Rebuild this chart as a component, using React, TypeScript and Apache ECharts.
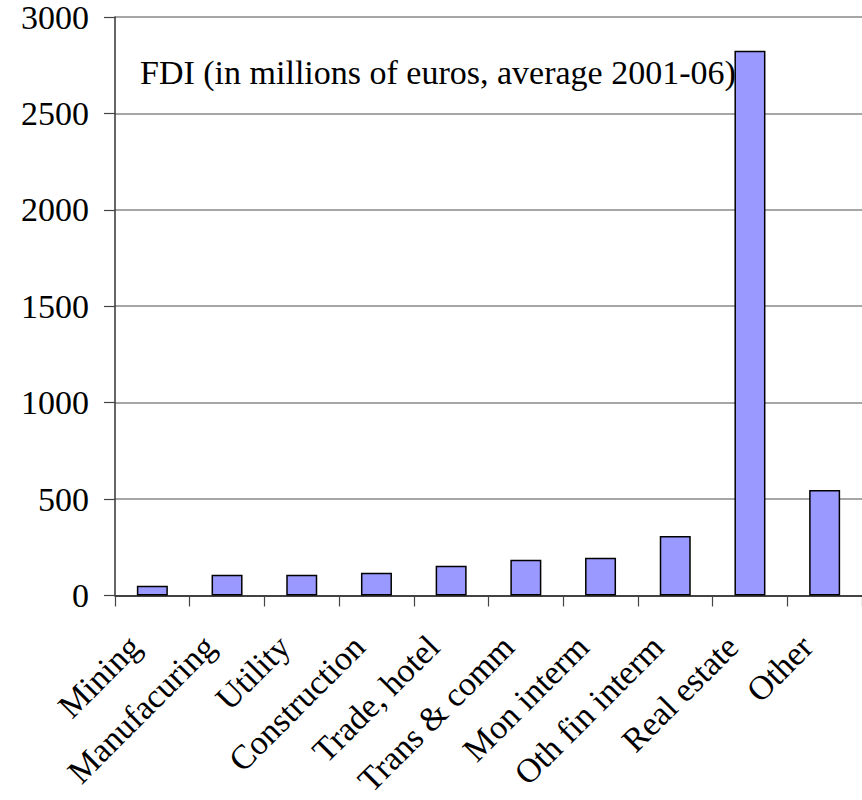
import React, { useEffect, useRef } from "react";
import * as echarts from "echarts";

const categories = [
  "Mining",
  "Manufacuring",
  "Utility",
  "Construction",
  "Trade, hotel",
  "Trans & comm",
  "Mon interm",
  "Oth fin interm",
  "Real estate",
  "Other",
];
const fdiValues = [50, 107, 107, 118, 154, 185, 195, 308, 2825, 547];
const yTicks = { min: 0, max: 3000, interval: 500 };
const chartTitle = "FDI (in millions of euros, average 2001-06)";

const FONT = '"Liberation Serif", "Times New Roman", serif';

export default function App() {
  const ref = useRef<HTMLDivElement>(null);
  useEffect(() => {
    document.body.style.margin = "0";
    document.body.style.overflow = "hidden";
    if (!ref.current) return;
    const chart = echarts.init(ref.current, undefined, { renderer: "svg" });
    chart.setOption({
      animation: false,
      backgroundColor: "#ffffff",
      grid: { left: 115, top: 16, width: 755, height: 582, containLabel: false },
      graphic: [
        {
          type: "text",
          x: 140,
          y: 72,
          style: {
            text: chartTitle,
            font: `34px ${FONT}`,
            fill: "#000",
            verticalAlign: "middle",
          },
        },
      ],
      xAxis: {
        type: "category",
        data: categories,
        axisLine: { lineStyle: { color: "#222", width: 1.5 } },
        axisTick: { show: true, length: 11, lineStyle: { color: "#444", width: 1.2 } },
        axisLabel: {
          rotate: 45,
          interval: 0,
          margin: 28,
          padding: [0, 25, 0, 0],
          color: "#000",
          fontFamily: FONT,
          fontSize: 34,
        },
        splitLine: { show: false },
      },
      yAxis: {
        type: "value",
        min: yTicks.min,
        max: yTicks.max,
        interval: yTicks.interval,
        axisLine: { show: true, lineStyle: { color: "#333", width: 1.5 } },
        axisTick: { show: true, length: 11, lineStyle: { color: "#444", width: 1.2 } },
        axisLabel: {
          margin: 26,
          color: "#000",
          fontFamily: FONT,
          fontSize: 34,
          formatter: (v: number) => String(v),
        },
        splitLine: { show: true, lineStyle: { color: "#888", width: 1.5 } },
      },
      series: [
        {
          type: "bar",
          data: fdiValues,
          barWidth: 31,
          itemStyle: { color: "#9999ff", borderColor: "#000", borderWidth: 1.5 },
        },
      ],
    });
    return () => chart.dispose();
  }, []);
  return <div ref={ref} style={{ width: 862, height: 800, position: "absolute", left: 0, top: 0 }} />;
}
